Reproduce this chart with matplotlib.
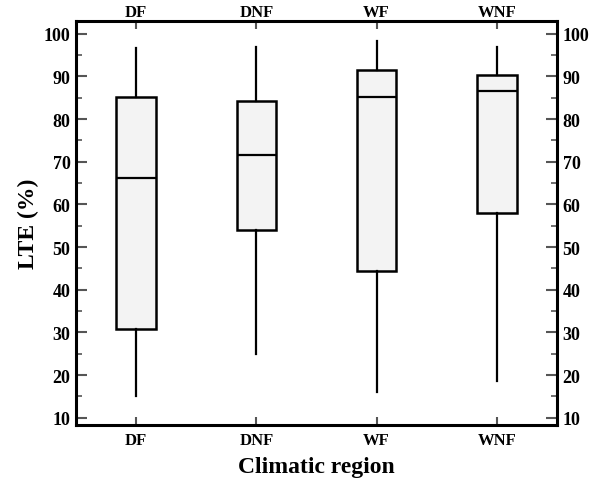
import matplotlib
matplotlib.use("Agg")
import matplotlib.pyplot as plt
from matplotlib.ticker import MultipleLocator

plt.rcParams['font.family'] = ['Liberation Serif', 'DejaVu Serif']
plt.rcParams['font.weight'] = 'bold'

regions = ["DF", "DNF", "WF", "WNF"]
whisker_low = [15.2, 25.0, 16.0, 18.6]
q1 = [30.9, 54.0, 44.3, 58.0]
median = [66.3, 71.7, 85.1, 86.7]
q3 = [85.3, 84.3, 91.6, 90.4]
whisker_high = [96.7, 97.0, 98.3, 96.9]

stats = [
    dict(label=r, whislo=lo, q1=a, med=m, q3=b, whishi=hi, fliers=[])
    for r, lo, a, m, b, hi in zip(regions, whisker_low, q1, median, q3, whisker_high)
]

fig = plt.figure(figsize=(6.02, 4.81), dpi=100)
ax = fig.add_axes([76 / 602, 1 - 426 / 481, 481 / 602, 404 / 481])

ax.bxp(stats, positions=range(1, 5), widths=0.33, patch_artist=True,
       showcaps=False,
       boxprops=dict(facecolor='#f3f3f3', edgecolor='black', linewidth=1.8),
       medianprops=dict(color='black', linewidth=1.6),
       whiskerprops=dict(color='black', linewidth=1.6))

ax.set_xlim(0.5, 4.5)
ax.set_ylim(8.3, 103)
ax.yaxis.set_major_locator(MultipleLocator(10))
ax.yaxis.set_minor_locator(MultipleLocator(5))
ax.set_xticks(range(1, 5))
ax.set_xticklabels(regions)

for s in ax.spines.values():
    s.set_linewidth(2.2)

ax.tick_params(axis='y', which='major', direction='in', length=8, width=1.5,
               color='#555555', left=True, right=True, labelleft=True,
               labelright=True, labelsize=13, pad=4)
ax.tick_params(axis='y', which='minor', direction='in', length=4, width=1.2,
               color='#555555', left=True, right=True)
ax.tick_params(axis='x', which='major', direction='in', length=6, width=1.5,
               color='#555555', top=True, bottom=True, labeltop=False,
               labelbottom=True, labelsize=12, pad=5)

# category names repeated along the top edge
top = ax.secondary_xaxis('top')
top.set_xticks(range(1, 5))
top.set_xticklabels(regions)
top.spines['top'].set_visible(False)
top.tick_params(axis='x', direction='in', length=0, labelsize=12, pad=1)

ax.set_ylabel('LTE (%)', fontsize=17, fontweight='bold', labelpad=3)
ax.set_xlabel('Climatic region', fontsize=17, fontweight='bold', labelpad=6)

fig.savefig('out.png', dpi=100)
